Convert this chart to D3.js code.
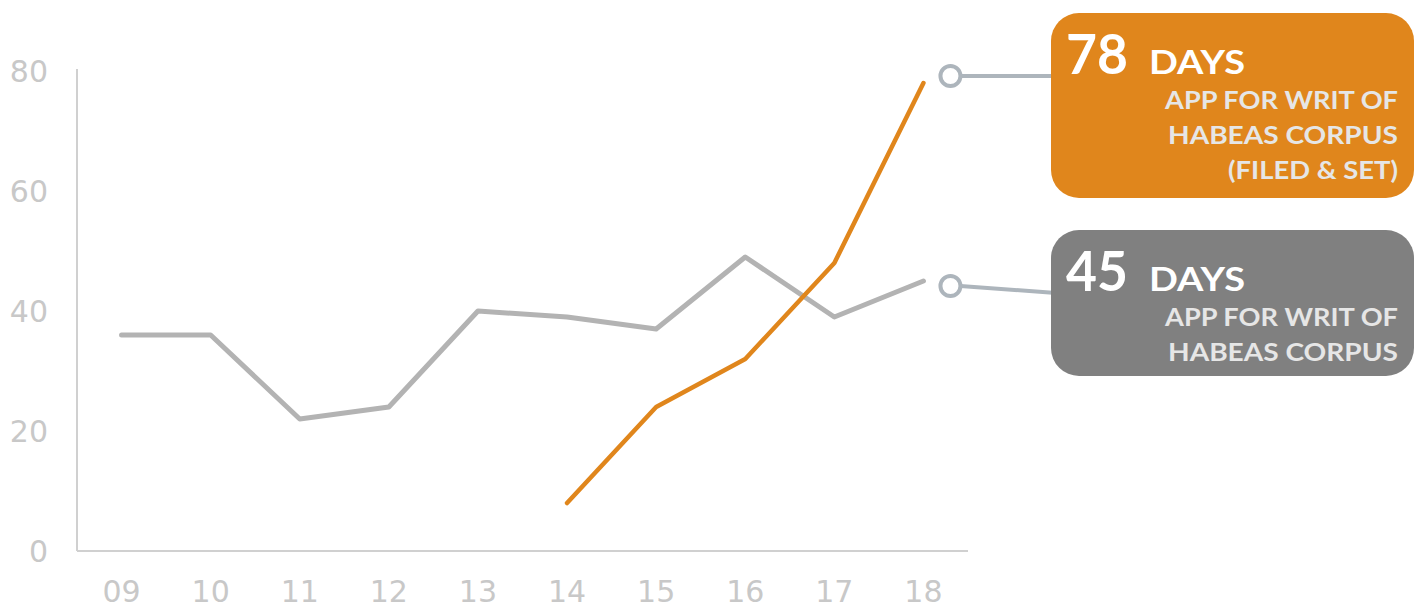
<!DOCTYPE html>
<html><head><meta charset="utf-8">
<script src="https://cdn.jsdelivr.net/npm/d3@7/dist/d3.min.js"></script>
<style>body{margin:0;background:#fff;}svg{display:block;}</style>
</head><body>
<script>
const years = ["09","10","11","12","13","14","15","16","17","18"];
const habeas = [36,36,22,24,40,39,37,49,39,45];
const filedSet = [null,null,null,null,null,8,24,32,48,78];
const yTicks = [0,20,40,60,80];
const callouts = [
  {value:"78", unit:"DAYS", lines:["APP FOR WRIT OF","HABEAS CORPUS","(FILED & SET)"], fill:"#e0861c"},
  {value:"45", unit:"DAYS", lines:["APP FOR WRIT OF","HABEAS CORPUS"], fill:"#808080"}
];

const W=1420,H=610;
const svg=d3.select("body").append("svg").attr("width",W).attr("height",H);
const x=d3.scaleBand().domain(years).range([77,968]);
const y=d3.scaleLinear().domain([0,80]).range([551,71]);
const cx=d=>x(d)+x.bandwidth()/2;

svg.append("line").attr("x1",77).attr("x2",77).attr("y1",y(80)-2).attr("y2",y(0)).attr("stroke","#d0d0d0").attr("stroke-width",2);
svg.append("line").attr("x1",77).attr("x2",968).attr("y1",y(0)).attr("y2",y(0)).attr("stroke","#d0d0d0").attr("stroke-width",2);

const tf="DejaVu Sans, Verdana, sans-serif";
svg.selectAll(".yt").data(yTicks).join("text").attr("x",48).attr("y",d=>y(d)+11).attr("text-anchor","end")
  .attr("fill","#c8c8c8").attr("font-family",tf).attr("font-size","30px").text(d=>d);
svg.selectAll(".xt").data(years).join("text").attr("x",d=>cx(d)).attr("y",602).attr("text-anchor","middle")
  .attr("fill","#c8c8c8").attr("font-family",tf).attr("font-size","30px").text(d=>d);

const line=d3.line().defined(d=>d[1]!=null).x(d=>cx(d[0])).y(d=>y(d[1]));
svg.append("path").datum(years.map((k,i)=>[k,habeas[i]])).attr("d",line).attr("fill","none")
  .attr("stroke","#b3b3b3").attr("stroke-width",5).attr("stroke-linecap","round").attr("stroke-linejoin","round");
svg.append("path").datum(years.map((k,i)=>[k,filedSet[i]])).attr("d",line).attr("fill","none")
  .attr("stroke","#e0861c").attr("stroke-width",4.5).attr("stroke-linecap","round").attr("stroke-linejoin","round");

const boxes=[{top:13,h:185,circY:76,connY:76},{top:230,h:146,circY:286,connY:293}];
const lineWidths={"APP FOR WRIT OF":233,"HABEAS CORPUS":230,"(FILED & SET)":170};
const font="Lato, 'Open Sans', sans-serif";
callouts.forEach((c,i)=>{
  const b=boxes[i];
  const circX=cx("18")+27;
  svg.append("line").attr("x1",circX+10).attr("y1",b.circY).attr("x2",1056).attr("y2",b.connY)
    .attr("stroke","#adb5bc").attr("stroke-width",4);
  svg.append("circle").attr("cx",circX).attr("cy",b.circY).attr("r",10).attr("fill","#fff")
    .attr("stroke","#adb5bc").attr("stroke-width",4);
  svg.append("rect").attr("x",1051).attr("y",b.top).attr("width",363).attr("height",b.h).attr("rx",28).attr("fill",c.fill);
  const base=b.top+61;
  svg.append("text").attr("x",1066).attr("y",base).attr("fill","#fff").attr("font-family",font)
    .attr("font-weight","bold").attr("font-size","56px").attr("textLength",62).attr("lengthAdjust","spacingAndGlyphs").text(c.value);
  svg.append("text").attr("x",1149).attr("y",base).attr("fill","#fff").attr("font-family",font)
    .attr("font-weight","bold").attr("font-size","32px").attr("textLength",96).attr("lengthAdjust","spacingAndGlyphs").text(c.unit);
  c.lines.forEach((t,j)=>{
    const w=lineWidths[t];
    svg.append("text").attr("x",1398-w).attr("y",base+35+j*35).attr("fill","#e6e6e6")
      .attr("font-family",font).attr("font-weight","bold").attr("font-size","25px")
      .attr("textLength",w).attr("lengthAdjust","spacingAndGlyphs").text(t);
  });
});
</script>
</body></html>
